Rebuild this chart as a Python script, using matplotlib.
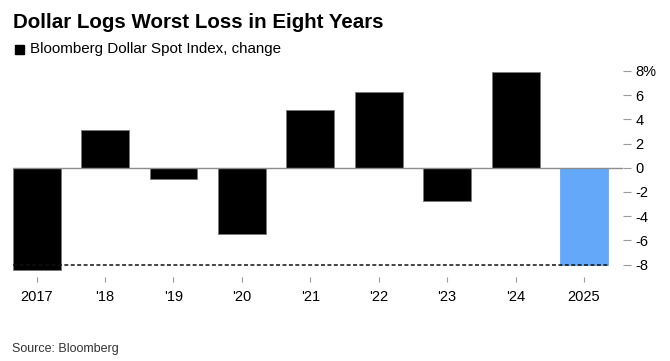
import matplotlib.pyplot as plt
import numpy as np

# Данные: изменение Bloomberg Dollar Spot Index по годам, %
years = ['2017', "'18", "'19", "'20", "'21", "'22", "'23", "'24", '2025']
changes = [-8.45, 3.15, -0.9, -5.45, 4.75, 6.25, -2.75, 7.95, -8.05]
bar_colors = ['black'] * 8 + ['#64a8fa']
edge_colors = ['#7a7a7a'] * 8 + ['#64a8fa']
y_ticks = [-8, -6, -4, -2, 0, 2, 4, 6, 8]
y_tick_labels = ['-8', '-6', '-4', '-2', '0', '2', '4', '6', '8%']

W, H = 670, 361
fig = plt.figure(figsize=(W / 100, H / 100), dpi=100)
plt.rcParams['font.family'] = ['Liberation Sans', 'DejaVu Sans']


def px(x, y):
    """Пиксели (от левого верхнего угла) -> доли фигуры."""
    return x / W, 1 - y / H


# Область графика в пикселях
left, right, top, bottom = 12.7, 623, 58.8, 276.7
ax = fig.add_axes([left / W, 1 - bottom / H, (right - left) / W, (bottom - top) / H])

x = np.arange(len(years))
ax.bar(x, changes, width=0.7, color=bar_colors, edgecolor=edge_colors,
       linewidth=0.6, zorder=2)
ax.axhline(0, color='#8c8c8c', linewidth=1.0, zorder=3)
# Пунктир на уровне 2025 года
ax.hlines(changes[-1], x[0] - 0.35, x[-1] + 0.35, colors='#111111',
          linestyles=(0, (2.6, 1.6)), linewidth=1.1, zorder=4)

ax.set_xlim(-0.35, 8.57)
ax.set_ylim(-9, 9)
for side in ['top', 'bottom', 'left', 'right']:
    ax.spines[side].set_visible(False)

ax.set_xticks(x)
ax.set_xticklabels(years, fontsize=10.5)
ax.yaxis.tick_right()
ax.set_yticks(y_ticks)
ax.set_yticklabels(y_tick_labels, fontsize=10.5)
ax.tick_params(axis='x', length=3.6, width=0.8, color='#999999', pad=6)
ax.tick_params(axis='y', length=5.8, width=0.8, color='#999999', pad=3)

# Заголовок, подзаголовок, источник
fig.text(*px(13, 28.5), 'Dollar Logs Worst Loss in Eight Years',
         fontsize=14.8, fontweight='bold', va='baseline', ha='left')
fig.patches.append(plt.Rectangle(px(14.8, 53.5), 9 / W, 9 / H, color='black',
                                 transform=fig.transFigure, figure=fig))
fig.text(*px(30.5, 53.3), 'Bloomberg Dollar Spot Index, change', fontsize=10.9,
         va='baseline', ha='left')
fig.text(*px(12, 352), 'Source: Bloomberg', fontsize=9, color='#333333',
         va='baseline', ha='left')

fig.savefig('out.png', dpi=100)
